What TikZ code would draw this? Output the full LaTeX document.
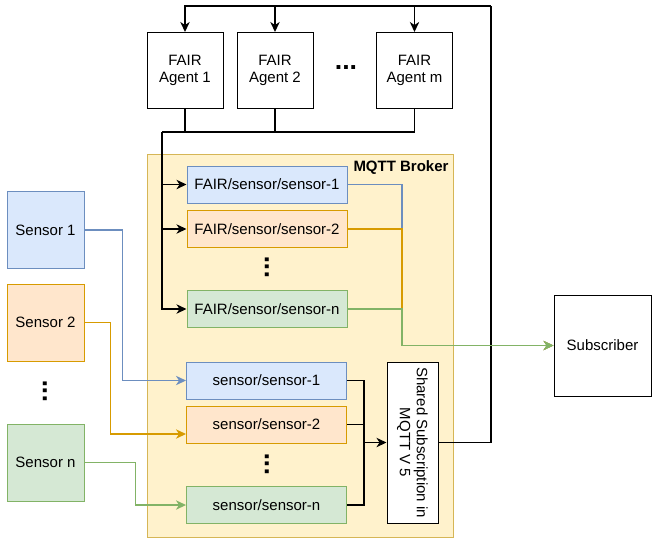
\documentclass[tikz,border=0pt]{standalone}
\usepackage{fontspec}
\setmainfont{Liberation Sans}
\usetikzlibrary{arrows.meta,positioning}
\definecolor{blueFill}{HTML}{DAE8FC}
\definecolor{blueLine}{HTML}{6C8EBF}
\definecolor{orangeFill}{HTML}{FFE6CC}
\definecolor{orangeLine}{HTML}{D79B00}
\definecolor{greenFill}{HTML}{D5E8D4}
\definecolor{greenLine}{HTML}{82B366}
\definecolor{brokerFill}{HTML}{FFF2CC}
\definecolor{brokerLine}{HTML}{D6B656}
\tikzset{
	box/.style={draw=black, line width=0.6pt, fill=white, inner sep=0pt, align=center},
	agentbox/.style={box, minimum width=45.6pt, minimum height=45.6pt},
	topicbox/.style={box, minimum width=96pt, minimum height=22.2pt},
	sensorbox/.style={box, minimum width=46.2pt, minimum height=46.2pt},
	bluebox/.style={fill=blueFill, draw=blueLine},
	orangebox/.style={fill=orangeFill, draw=orangeLine},
	greenbox/.style={fill=greenFill, draw=greenLine},
	bus/.style={line width=0.9pt, draw=black},
	wire/.style={line width=0.75pt}
}

\begin{document}
\begin{tikzpicture}[
			x=0.6pt, y=-0.6pt,
			font=\fontsize{9}{10.2}\selectfont,
			>={Stealth[length=6pt,width=5.6pt,inset=1.8pt]},
			hdots/.style = {font=\fontsize{16}{16}\bfseries\selectfont, inner sep=0pt},
			vdots/.style = {hdots, rotate=90},
		]
			\useasboundingbox (0,0) rectangle (652,539);

			% broker area
			\node [draw=brokerLine, fill=brokerFill, line width=0.6pt, minimum width=183.6pt, minimum height=229.8pt] (broker) at (300,345.5) {};
			\node [font=\fontsize{9}{10.2}\bfseries\selectfont] (brokerlabel) at (401,168) {MQTT Broker};

			% agents
			\node [agentbox] (agent1) at (185,70.5) {FAIR\\Agent 1};
			\node [agentbox] (agent2) at (275,70.5) {FAIR\\Agent 2};
			\node [agentbox] (agentm) at (414.5,70.5) {FAIR\\Agent m};
			\node [hdots] (agentdots) at (346,68) {...};

			% FAIR topics
			\node [topicbox, bluebox] (fair1) at (267,184.5) {FAIR/sensor/sensor-1};
			\node [topicbox, orangebox] (fair2) at (267,229) {FAIR/sensor/sensor-2};
			\node [topicbox, greenbox] (fairn) at (267,309) {FAIR/sensor/sensor-n};
			\node [vdots] (fairdots) at (267,267) {...};

			% raw topics
			\node [topicbox, bluebox] (topic1) at (266.5,380.5) {sensor/sensor-1};
			\node [topicbox, orangebox] (topic2) at (266.5,424.5) {sensor/sensor-2};
			\node [topicbox, greenbox] (topicn) at (266.5,505) {sensor/sensor-n};
			\node [vdots] (topicdots) at (267,464) {...};

			% sensors
			\node [sensorbox, bluebox] (sensor1) at (45.5,230) {Sensor 1};
			\node [sensorbox, orangebox] (sensor2) at (45.5,322.5) {Sensor 2};
			\node [sensorbox, greenbox] (sensorn) at (45.5,462.5) {Sensor n};
			\node [vdots] (sensordots) at (45,391) {...};

			\node [box, minimum width=30.6pt, minimum height=96.6pt] (shared) at (412.5,442.5) {};
			\node [rotate=-90, align=center] (sharedtext) at (shared.center) {Shared Subscription in\\MQTT V 5};
			\node [box, minimum width=58.2pt, minimum height=60.6pt] (sub) at (602.5,345.5) {Subscriber};

			\coordinate (agbus) at (162,132);
			\coordinate (topbus) at (491,6);
			\coordinate (merge) at (364,442.5);
			\coordinate (fairbus) at (402,345.5);

			% agents publish FAIR topics
			\foreach\a in {agent1,agent2,agentm}{
				\draw [wire] (\a.south) |- (agbus);
			}
			\foreach\f in {fair1,fair2,fairn}{
				\draw [bus,->] (agbus) |- (\f.west);
			}

			% sensors publish raw topics
			\draw [wire, blueLine, ->] (sensor1.east) -- ++(38,0) |- (topic1.west);
			\draw [wire, orangeLine, ->] (sensor2.east) -- ++(26,0) |- ([yshift=-5.7pt]topic2.west);
			\draw [wire, greenLine, ->] (sensorn.east) -- ++(51,0) |- (topicn.west);

			% shared subscription back to agents
			\foreach\t in {topic1,topic2,topicn}{
				\draw [wire] (\t.east) -| (merge);
			}
			\draw [bus,->] (merge) -- (shared.west);
			\draw [bus] (shared.east) -| (topbus);
			\foreach\a in {agent1,agent2,agentm}{
				\draw [bus,->] (topbus) -| (\a.north);
			}

			% FAIR topics to subscriber
			\draw [wire, blueLine, ->] (fair1.east) -| (fairbus) -- (sub.west);
			\draw [wire, orangeLine, ->] (fair2.east) -| (fairbus) -- (sub.west);
			\draw [wire, greenLine, ->] (fairn.east) -| (fairbus) -- (sub.west);
		\end{tikzpicture}
\end{document}
